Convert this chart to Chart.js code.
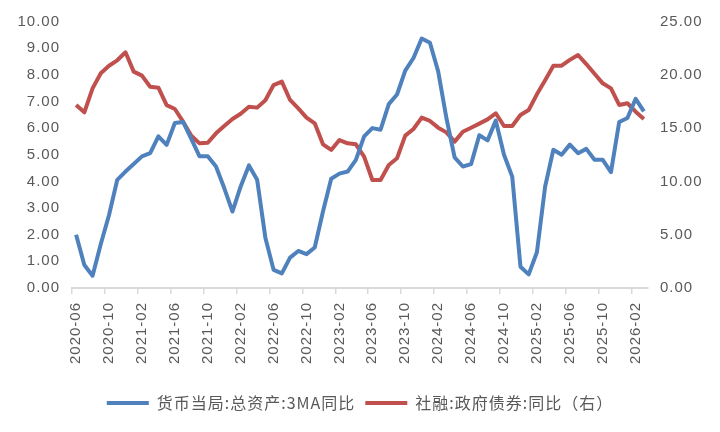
<!DOCTYPE html>
<html>
<head>
<meta charset="utf-8">
<style>
  html, body { margin: 0; padding: 0; background: #fff; }
  #wrap { width: 720px; height: 432px; }
</style>
</head>
<body>
<div id="wrap"><canvas id="chart" width="720" height="432"></canvas></div>

<script src="https://cdn.jsdelivr.net/npm/chart.js"></script>
<script>
// months 2020-06 .. 2026-03
var months = [
  '2020-06','2020-07','2020-08','2020-09','2020-10','2020-11','2020-12',
  '2021-01','2021-02','2021-03','2021-04','2021-05','2021-06','2021-07','2021-08','2021-09','2021-10','2021-11','2021-12',
  '2022-01','2022-02','2022-03','2022-04','2022-05','2022-06','2022-07','2022-08','2022-09','2022-10','2022-11','2022-12',
  '2023-01','2023-02','2023-03','2023-04','2023-05','2023-06','2023-07','2023-08','2023-09','2023-10','2023-11','2023-12',
  '2024-01','2024-02','2024-03','2024-04','2024-05','2024-06','2024-07','2024-08','2024-09','2024-10','2024-11','2024-12',
  '2025-01','2025-02','2025-03','2025-04','2025-05','2025-06','2025-07','2025-08','2025-09','2025-10','2025-11','2025-12',
  '2026-01','2026-02','2026-03'
];

// 货币当局:总资产:3MA同比 (left axis)
var pbocAssets = [
  2.00, 0.86, 0.46, 1.65, 2.74, 4.06, 4.37,
  4.65, 4.94, 5.06, 5.69, 5.37, 6.19, 6.23, 5.60, 4.94, 4.94, 4.56, 3.75,
  2.87, 3.81, 4.60, 4.06, 1.89, 0.68, 0.55, 1.14, 1.39, 1.27, 1.52, 2.87,
  4.10, 4.29, 4.37, 4.81, 5.69, 6.00, 5.94, 6.90, 7.26, 8.16, 8.63, 9.36,
  9.20, 8.13, 6.38, 4.90, 4.56, 4.65, 5.73, 5.54, 6.28, 5.00, 4.18, 0.80,
  0.51, 1.34, 3.81, 5.19, 5.00, 5.38, 5.06, 5.22, 4.81, 4.81, 4.35, 6.23,
  6.38, 7.10, 6.63
];

// 社融:政府债券:同比 (right axis)
var govBonds = [
  17.17, 16.48, 18.73, 20.14, 20.85, 21.36, 22.11,
  20.30, 19.92, 18.88, 18.79, 17.15, 16.79, 15.60, 14.29, 13.57, 13.63, 14.51, 15.20,
  15.85, 16.35, 17.01, 16.92, 17.61, 19.04, 19.36, 17.64, 16.85, 15.98, 15.45, 13.48,
  12.95, 13.88, 13.57, 13.48, 12.32, 10.13, 10.13, 11.54, 12.17, 14.29, 14.92, 15.98,
  15.67, 15.04, 14.60, 13.73, 14.66, 15.04, 15.42, 15.82, 16.39, 15.20, 15.20, 16.23,
  16.70, 18.17, 19.48, 20.85, 20.85, 21.40, 21.86, 21.01, 20.10, 19.20, 18.73, 17.17,
  17.33, 16.54, 15.85
];

var textColor = '#595959';
var tickFont = { family: 'Liberation Sans', size: 15 };

// the original text is set a little loose
var spacing = {
  id: 'spacing',
  beforeUpdate: function(chart) { chart.ctx.letterSpacing = '1px'; }
};

new Chart(document.getElementById('chart'), {
  type: 'line',
  data: {
    labels: months,
    datasets: [{
      label: '货币当局:总资产:3MA同比',
      data: pbocAssets,
      yAxisID: 'y',
      borderColor: '#4f81bd',
      backgroundColor: '#4f81bd',
      borderWidth: 4,
      borderJoinStyle: 'round',
      pointRadius: 0,
      tension: 0
    }, {
      label: '社融:政府债券:同比（右）',
      data: govBonds,
      yAxisID: 'y1',
      borderColor: '#c0504d',
      backgroundColor: '#c0504d',
      borderWidth: 4,
      borderJoinStyle: 'round',
      pointRadius: 0,
      tension: 0
    }]
  },
  plugins: [spacing],
  options: {
    responsive: false,
    animation: false,
    layout: { padding: { top: 21.5, left: 0, right: 0, bottom: 11 } },
    plugins: {
      tooltip: { enabled: false },
      legend: {
        position: 'bottom',
        labels: {
          usePointStyle: true,
          pointStyle: 'line',
          pointStyleWidth: 42,
          padding: 10,
          color: textColor,
          font: { family: 'Noto Sans CJK SC', size: 16 }
        }
      }
    },
    scales: {
      x: {
        offset: true,
        grid: {
          offset: true,
          drawOnChartArea: false,
          tickLength: 6,
          lineWidth: 1.5,
          color: function(ctx) { return ctx.index % 4 === 0 ? '#d9d9d9' : 'rgba(0,0,0,0)'; }
        },
        border: { color: '#d9d9d9', width: 2 },
        ticks: {
          autoSkip: false,
          minRotation: 90,
          maxRotation: 90,
          padding: 8,
          color: textColor,
          font: tickFont,
          callback: function(v, i) { return i % 4 === 0 ? months[i] : ''; }
        },
        afterFit: function(s) { s.height = 97; }
      },
      y: {
        position: 'left',
        min: 0,
        max: 10,
        grid: { display: false, drawTicks: false },
        border: { display: false },
        ticks: {
          stepSize: 1,
          padding: 12,
          color: textColor,
          font: tickFont,
          callback: function(v) { return v.toFixed(2); }
        },
        afterFit: function(s) { s.width = 72; }
      },
      y1: {
        position: 'right',
        min: 0,
        max: 25,
        grid: { display: false, drawTicks: false },
        border: { display: false },
        ticks: {
          stepSize: 5,
          padding: 12,
          color: textColor,
          font: tickFont,
          callback: function(v) { return v.toFixed(2); }
        },
        afterFit: function(s) { s.width = 72; }
      }
    }
  }
});
</script>
</body>
</html>
